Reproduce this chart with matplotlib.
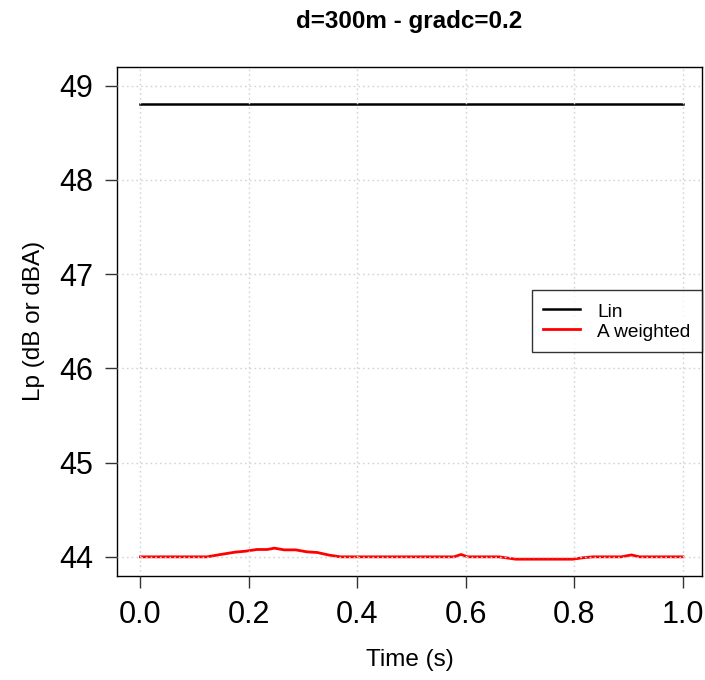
# -*- coding: utf-8 -*-

import numpy as np
import matplotlib.pyplot as plt

plt.rcParams['font.family'] = ['Liberation Sans', 'DejaVu Sans']

# time axis (s)
t_lin = [0.0, 1.0]
lp_lin = [48.8, 48.8]

t_a = [0.0, 0.123, 0.148, 0.175, 0.194, 0.215, 0.234, 0.247, 0.265, 0.286,
       0.307, 0.326, 0.348, 0.369, 0.578, 0.591, 0.603, 0.661, 0.692, 0.797,
       0.815, 0.834, 0.886, 0.905, 0.92, 1.0]
lp_a = [44.0, 44.0, 44.025, 44.05, 44.06, 44.078, 44.078, 44.092, 44.074, 44.074,
        44.053, 44.046, 44.018, 44.0, 44.0, 44.025, 44.0, 44.0, 43.975, 43.975,
        43.99, 44.0, 44.0, 44.02, 44.0, 44.0]

x_ticks = [0.0, 0.2, 0.4, 0.6, 0.8, 1.0]
y_ticks = [44, 45, 46, 47, 48, 49]

fig = plt.figure(figsize=(7.05, 6.8), dpi=100)
ax = fig.add_axes([0.1664, 0.1534, 0.8289, 0.7485])

ax.plot(t_lin, lp_lin, color='black', lw=1.8, label='Lin', zorder=2)
ax.plot(t_a, lp_a, color='red', lw=2.0, label='A weighted', zorder=2)

ax.set_xlim(-0.0425, 1.0345)
ax.set_ylim(43.8, 49.2)
ax.set_xticks(x_ticks)
ax.set_xticklabels(['%.1f' % v for v in x_ticks])
ax.set_yticks(y_ticks)

# R style dotted grid, drawn on top of the lines
ax.grid(True, color='#d3d3d3', linestyle=(0, (1.2, 2.2)), lw=1.0, zorder=3)
ax.set_axisbelow(False)

ax.tick_params(axis='both', labelsize=22, length=8.5, width=1.0, color='#333333', pad=9)
for sp in ax.spines.values():
    sp.set_linewidth(1.0)
    sp.set_color('black')

ax.set_title('d=300m - gradc=0.2', fontsize=17.5, fontweight='bold', pad=28)
ax.set_xlabel('Time (s)', fontsize=17.5, labelpad=14)
ax.set_ylabel('Lp (dB or dBA)', fontsize=17.5, labelpad=10)

leg = ax.legend(loc='center right', fontsize=13.8, frameon=True, fancybox=False,
                edgecolor='black', borderaxespad=0.0, handlelength=1.9,
                handleheight=1.1, handletextpad=0.9, labelspacing=0.0,
                borderpad=0.6)
leg.get_frame().set_linewidth(1.0)
leg.set_zorder(5)

plt.savefig('out.png', dpi=100)
